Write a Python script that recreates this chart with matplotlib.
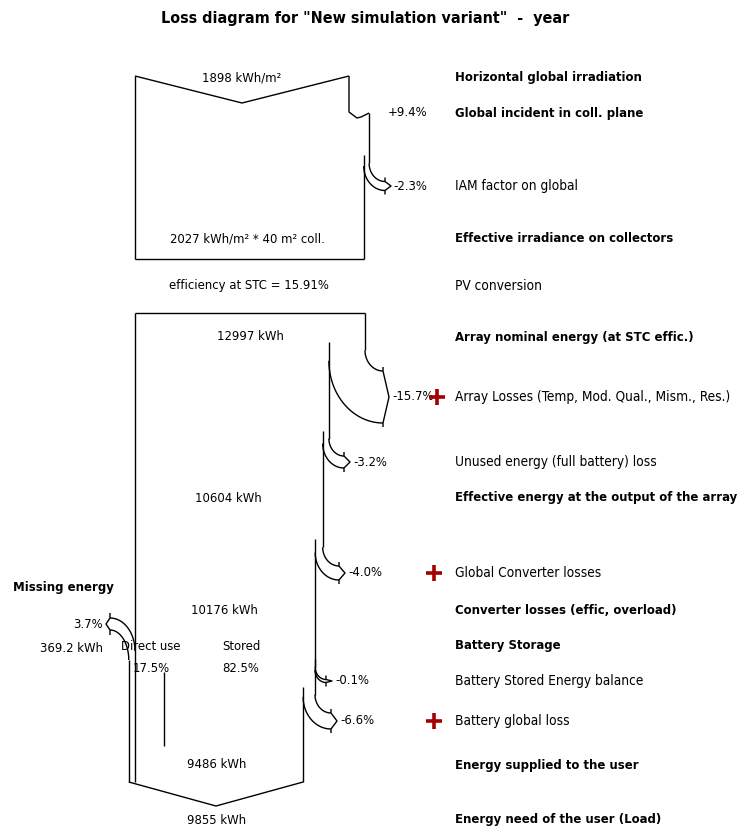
import numpy as np
import matplotlib
matplotlib.use('Agg')
import matplotlib.pyplot as plt

# ============= Data
title = 'Loss diagram for "New simulation variant"  -  year'
irradHoriz = 1898          # kWh/m2
irradEff = 2027            # kWh/m2
collArea = 40              # m2
irradPcts = [9.4, -2.3]    # global incident gain, IAM loss
effSTC = 15.91
energyNominal = 12997      # kWh
energyArray = 10604
energyConv = 10176
energyUser = 9486
energyLoad = 9855
arrayPcts = [-15.7, -3.2, -4.0, -0.1, -6.6]
missingPct = 3.7
missingKWh = 369.2
directPct = 17.5
storedPct = 82.5
rowLabels = ['Horizontal global irradiation', 'Global incident in coll. plane', 'IAM factor on global',
             'Effective irradiance on collectors', 'PV conversion', 'Array nominal energy (at STC effic.)',
             'Array Losses (Temp, Mod. Qual., Mism., Res.)', 'Unused energy (full battery) loss',
             'Effective energy at the output of the array', 'Global Converter losses',
             'Converter losses (effic, overload)', 'Battery Storage', 'Battery Stored Energy balance',
             'Battery global loss', 'Energy supplied to the user', 'Energy need of the user (Load)']
rowBold = [1, 1, 0, 1, 0, 1, 0, 0, 1, 0, 1, 1, 0, 0, 1, 1]
redPlusRows = [6, 9, 13]   # rows flagged with the red "+"

# ============= Layout (pixel units of the 748x832 picture)
rowY = [78, 113, 186, 239, 286, 337, 397, 462, 498, 573, 610, 646, 681, 721, 765, 820]
labelX = 455
leftX = 135
topWidth = 214             # width of the 1898 kWh/m2 band
arrayWidth = 230           # width of the 12997 kWh band
lossTipY = [397, 462, 573, 681, 721]
lossTipX = [389, 350, 345, 332, 337]
lossSpread = [26, 6, 7, 1.5, 8]
fsNum = 9.4     # numbers inside the diagram
fsReg = 9.8     # regular labels
fsBold = 9.4    # bold labels
lw = 1.0
col = 'black'
plt.rcParams['font.family'] = ['DejaVu Sans']
plt.rcParams['font.stretch'] = 'condensed'

fig = plt.figure(figsize=(7.48, 8.32), dpi=100)
ax = fig.add_axes([0, 0, 1, 1])
ax.set_xlim(0, 748)
ax.set_ylim(832, 0)
ax.axis('off')


def line(xs, ys):
    ax.plot(xs, ys, color=col, lw=lw, solid_capstyle='butt')


def txt(x, y, s, ha='center', size=fsNum, bold=False, z=3):
    ax.text(x, y, s, ha=ha, va='center', fontsize=size, fontstretch='condensed',
            fontweight='bold' if bold else 'normal', zorder=z)


def loss_arrow(xOut, xIn, yTip, xTip, d):
    # two curved branches that leave the band and end in a "}" bracket
    xe = xTip - 6
    t = np.linspace(0, np.pi / 2, 40)
    starts = []
    for x0, ye in [(xOut, yTip - d), (xIn, yTip + d)]:
        y0 = ye - 1.15 * (xe - x0)
        line(x0 + (xe - x0) * (1 - np.cos(t)), y0 + (ye - y0) * np.sin(t))
        starts.append(y0)
    line([xe, xe, xTip, xe, xe], [yTip - d - 4, yTip - d, yTip, yTip + d, yTip + d + 4])
    return starts[0]


# ============= Irradiation box
scaleTop = topWidth / irradHoriz
xR0 = leftX + topWidth
xR1 = leftX + irradHoriz * (1 + irradPcts[0] / 100) * scaleTop
xR2 = leftX + irradHoriz * (1 + irradPcts[0] / 100) * (1 + irradPcts[1] / 100) * scaleTop
topY, boxBottom = 76, 259
line([leftX, (leftX + xR0) / 2, xR0], [topY, topY + 27, topY])
line([xR0, xR0, xR0 + 8, xR0 + 12, xR1], [topY, 112, 118, 117, 113])
yEnd = loss_arrow(xR1, xR2, rowY[2], 391, 4.5)
line([xR1, xR1], [113, yEnd])
line([xR2, xR2], [yEnd - 8, boxBottom])
line([leftX, leftX], [topY, boxBottom])
line([leftX, xR2], [boxBottom, boxBottom])

txt((leftX + xR0) / 2, rowY[0], f'{irradHoriz} kWh/m²')
txt(388, rowY[1], f'+{irradPcts[0]:.1f}%', ha='left')
txt(393, rowY[2], f'{irradPcts[1]:.1f}%', ha='left')
txt(247, rowY[3], f'{irradEff} kWh/m² * {collArea} m² coll.')
txt(249, rowY[4], f'efficiency at STC = {effSTC:.2f}%')

# ============= Energy band
scaleArr = arrayWidth / energyNominal
boxTop, boxEnd = 313, 782
xOut = leftX + arrayWidth
line([leftX, xOut], [boxTop, boxTop])
prevStart = boxTop
e = energyNominal
for i, p in enumerate(arrayPcts):
    e = e * (1 + p / 100)
    xIn = leftX + e * scaleArr
    yEnd = loss_arrow(xOut, xIn, lossTipY[i], lossTipX[i], lossSpread[i])
    line([xOut, xOut], [prevStart, yEnd])
    prevStart = yEnd - 8
    xOut = xIn
    txt(lossTipX[i] + 3, lossTipY[i], f'{p:.1f}%', ha='left')
line([xOut, xOut], [prevStart, boxEnd])
line([leftX, leftX], [boxTop, boxEnd])

# missing energy entering from the left
missW = (xOut - leftX) * missingPct / 100
xMiss = leftX - missW
t = np.linspace(0, np.pi / 2, 40)
for x0, y0, x1, y1 in [(110, 618, leftX, 651), (110, 630, xMiss, 660)]:
    line(x0 + (x1 - x0) * np.sin(t), y0 + (y1 - y0) * (1 - np.cos(t)))
line([110, 110, 106, 110, 110], [613, 618, 624, 630, 635])
line([xMiss, xMiss], [660, boxEnd])
line([xMiss, (xMiss + xOut) / 2, xOut], [boxEnd, boxEnd + 24, boxEnd])

# direct use split
xDirect = leftX + (xOut - leftX) * directPct / 100
line([xDirect, xDirect], [672, 746])

txt(250, rowY[5], f'{energyNominal} kWh')
txt(228, rowY[8], f'{energyArray} kWh')
txt(224, rowY[10], f'{energyConv} kWh')
txt(217, rowY[14], f'{energyUser} kWh')
txt(217, rowY[15], f'{energyLoad} kWh')
txt(13, 587, 'Missing energy', ha='left', size=fsBold, bold=True)
txt(103, 624, f'{missingPct:.1f}%', ha='right')
txt(103, 649, f'{missingKWh:.1f} kWh', ha='right')
txt(151, 646, 'Direct use', z=1)
txt(151, 668, f'{directPct:.1f}%', z=1)
txt(241, 646, 'Stored')
txt(241, 668, f'{storedPct:.1f}%')

# ============= Right-hand labels
for lab, y, b in zip(rowLabels, rowY, rowBold):
    txt(labelX, y, lab, ha='left', size=fsBold if b else fsReg, bold=b)
for r in redPlusRows:
    ax.plot([437 if r == 6 else 434], [rowY[r]], marker='+', ms=11, mew=2.6, color='#a50000', zorder=4)

txt(365, 18, title, size=11.5, bold=True)

fig.savefig('out.png', dpi=100)
